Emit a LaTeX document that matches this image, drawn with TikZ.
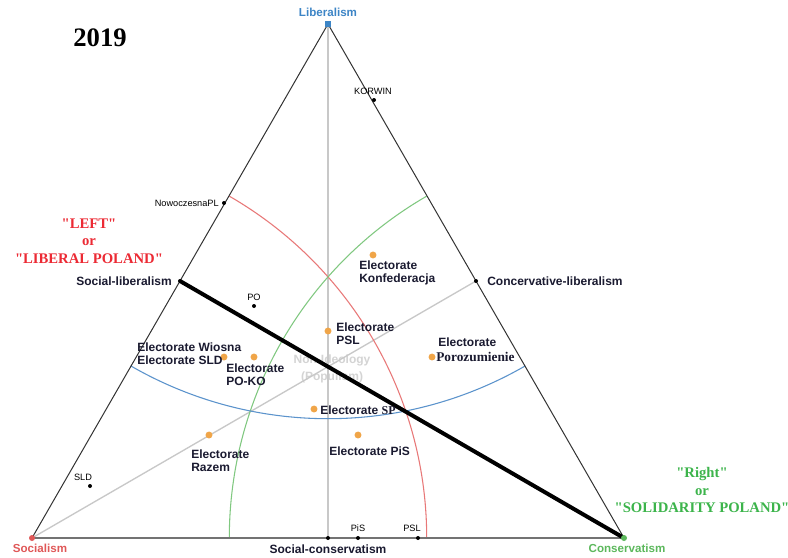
\documentclass[tikz,border=0pt]{standalone}
\usepackage{fontspec}
\setmainfont{Liberation Sans}
\newfontfamily\serifF{Liberation Serif}
\usetikzlibrary{calc}
\definecolor{orangeD}{HTML}{F0A548}
\definecolor{redA}{HTML}{E87878}
\definecolor{greenA}{HTML}{80C880}
\definecolor{blueA}{HTML}{5B93CC}
\definecolor{labred}{HTML}{EC2A34}
\definecolor{labgreen}{HTML}{3CB44B}
\definecolor{libblue}{HTML}{3D85C6}
\definecolor{socred}{HTML}{E05858}
\definecolor{congreen}{HTML}{5CB85C}
\definecolor{txt}{HTML}{1A1A30}
\definecolor{medgray}{HTML}{C8C8C8}
\definecolor{popgray}{HTML}{D4D4D4}
\begin{document}
\begin{tikzpicture}[x=0.75pt,y=-0.75pt,
  pdot/.style={circle,fill=black,inner sep=0pt,minimum size=3pt},
  edot/.style={circle,fill=orangeD,inner sep=0pt,minimum size=5.2pt},
  lab/.style={font=\fontsize{9}{9.8}\selectfont\bfseries,text=txt,inner sep=0pt,align=left},
  small/.style={font=\fontsize{6.9}{7.5}\selectfont,text=black,inner sep=0pt},
  vlab/.style={font=\fontsize{8.7}{10}\selectfont\bfseries,inner sep=0pt},
  camp/.style={font=\fontsize{11}{13.2}\selectfont\serifF\bfseries,inner sep=0pt,align=center},
  median/.style={draw=medgray,line width=1pt},
  side/.style={draw=black!80,line width=0.75pt},
  base/.style={draw=black!55,line width=1.4pt},
  arcline/.style={line width=0.8pt}
]
\useasboundingbox (0,0) rectangle (788,557);
\fill[white] (0,0) rectangle (788,557);

\coordinate (L) at (328,24);
\coordinate (S) at (32,538);
\coordinate (C) at (624,538);
\coordinate (ML) at ($(S)!0.5!(L)$);
\coordinate (MR) at ($(C)!0.5!(L)$);
\coordinate (MB) at ($(S)!0.5!(C)$);

% populism text (underneath)
\node[font=\fontsize{9}{12.5}\selectfont\bfseries,text=popgray,align=center,inner sep=0pt] (pop) at (332,369) {Non-Ideology\\(Populism)};

% medians
\draw[median] (S) -- (MR);
\draw[median] (L) -- (MB);

% arcs
\draw[arcline,draw=redA] ([shift={(0:394.7)}]S) arc[start angle=0,end angle=-60,radius=394.7];
\draw[arcline,draw=greenA] ([shift={(180:394.7)}]C) arc[start angle=180,end angle=240,radius=394.7];
\draw[arcline,draw=blueA] ([shift={(120:394.7)}]L) arc[start angle=120,end angle=60,radius=394.7];

% triangle
\draw[side] (S) -- (L) -- (C);
\draw[base] (S) -- (C);

% thick divider
\draw[line width=3pt,black] (ML) -- (C);

% vertex markers
\node[fill=libblue,inner sep=0pt,minimum size=4pt] (Lm) at (L) {};
\node[circle,fill=socred,inner sep=0pt,minimum size=4.5pt] (Sm) at (S) {};
\node[circle,fill=congreen,inner sep=0pt,minimum size=4.5pt] (Cm) at (C) {};
\node[vlab,text=libblue] (Ltxt) at (328,12) {Liberalism};
\node[vlab,text=socred] (Stxt) at (40,548) {Socialism};
\node[vlab,text=congreen] (Ctxt) at (627,548) {Conservatism};

% title
\node[font=\fontsize{20}{24}\selectfont\serifF\bfseries,inner sep=0pt] (yr) at (100,38) {2019};

% camps
\node[camp,text=labred] (left) at (89,241) {"LEFT"\\or\\"LIBERAL POLAND"};
\node[camp,text=labgreen] (right) at (702,490) {"Right"\\or\\"SOLIDARITY POLAND"};

% midpoint dots and labels
\node[pdot] (mlD) at (ML) {};
\node[pdot] (mrD) at (MR) {};
\node[pdot] (mbD) at (MB) {};
\node[lab,anchor=east] (mlT) at (172,281) {Social-liberalism};
\node[lab,anchor=west] (mrT) at (487,281) {Concervative-liberalism};
\node[lab] (mbT) at (328,549) {Social-conservatism};

% parties
\node[pdot] (korwin) at (374,100) {};
\node[small] (korwinT) at (373,91) {KORWIN};
\node[pdot] (nowo) at (224,203) {};
\node[small,anchor=east] (nowoT) at (219,203) {NowoczesnaPL};
\node[pdot] (po) at (254,306) {};
\node[small] (poT) at (254,297) {PO};
\node[pdot] (sld) at (90,486) {};
\node[small] (sldT) at (83,477) {SLD};
\node[pdot] (pis) at (358,538) {};
\node[small] (pisT) at (358,528) {PiS};
\node[pdot] (psl) at (418,538) {};
\node[small] (pslT) at (412,528) {PSL};

% electorates
\node[edot] (eKonf) at (373,255) {};
\node[lab,anchor=west] (eKonfT) at (359,273) {Electorate\\Konfederacja};
\node[edot] (ePSL) at (328,331) {};
\node[lab,anchor=west] (ePSLT) at (336,334) {Electorate\\PSL};
\node[edot] (ePor) at (432,357) {};
\node[lab,anchor=west] (ePorT1) at (438,342) {Electorate};
\node[font=\fontsize{10}{12}\selectfont\serifF\bfseries,text=txt,inner sep=0pt,anchor=west] (ePorT2) at (436,357) {Porozumienie};
\node[edot] (eWio) at (224,357) {};
\node[edot] (ePO) at (254,357) {};
\node[lab,anchor=west] (eWioT) at (137,347) {Electorate Wiosna};
\node[lab,anchor=west] (eSLDT) at (137,360) {Electorate SLD};
\node[lab,anchor=west] (ePOT) at (226,375) {Electorate\\PO-KO};
\node[edot] (eSP) at (314,409) {};
\node[lab,anchor=west] (eSPT) at (320,410) {Electorate {\serifF SP}};
\node[edot] (ePiS) at (358,435) {};
\node[lab,anchor=west] (ePiST) at (329,451) {Electorate PiS};
\node[edot] (eRaz) at (209,435) {};
\node[lab,anchor=west] (eRazT) at (191,461) {Electorate\\Razem};
\end{tikzpicture}
\end{document}
